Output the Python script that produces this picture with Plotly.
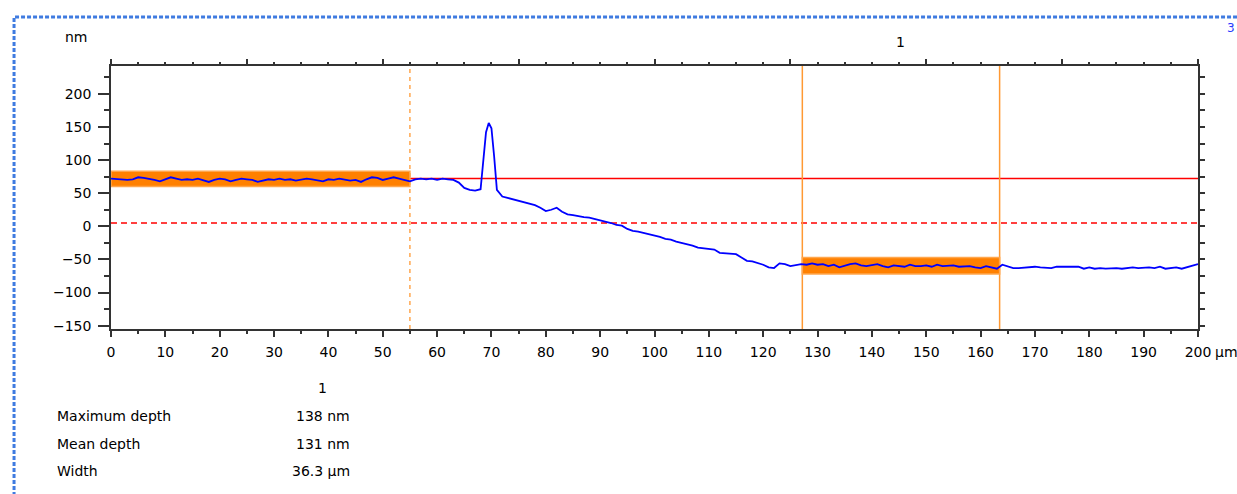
import plotly.graph_objects as go

# ---- profile data (µm, nm) ----
x_um = list(range(0, 64)) + [64, 65, 66, 67, 68, 68.5, 69, 69.5, 70, 70.5, 71] + list(range(72, 201))
height_nm = [
    72, 71, 70, 70, 71, 74, 73, 72, 70, 68, 71, 74, 72, 70, 71, 70, 72, 69, 67, 70,
    72, 71, 68, 70, 72, 71, 70, 67, 69, 71, 70, 72, 70, 71, 69, 71, 72, 71, 70, 68,
    71, 70, 72, 71, 69, 70, 67, 71, 74, 73, 70, 72, 74, 72, 70, 68,
    71, 72, 71, 72, 70, 72, 71, 70,
    66, 58, 55, 54, 56, 100, 142, 156, 148, 105, 55,
    45, 43, 41, 39, 37, 35, 32, 28, 23, 25, 28, 22, 18, 17, 15, 14, 13, 11, 9, 8,
    5, 2, 1, -4, -7, -8, -10, -12, -13, -16, -19, -20, -23, -25, -26, -29, -32, -33, -34, -35,
    -40, -41, -41, -42, -47, -52, -53, -55, -58, -62, -63, -56, -57, -60, -59, -57,
    -58, -56, -58, -57, -60, -58, -62, -59, -57, -56, -59, -60, -58, -57, -60, -62,
    -59, -60, -61, -58, -60, -60, -59, -61, -58, -60, -60, -59, -61, -60, -60, -62,
    -63, -60, -62, -64,
    -58, -60, -63, -63, -62, -61, -61, -62, -62, -63, -61, -61, -62, -62, -61, -64,
    -62, -64, -63, -64, -63, -63, -64, -63, -62, -63, -62, -62, -63, -61, -64, -63,
    -62, -64, -62, -60, -57,
]

# reference / measurement markers
ref_level_nm = 72          # red solid
base_level_nm = 5          # red dashed
ref_cursor_um = 55         # orange dashed
meas_cursors_um = [127.2, 163.5]
ref_band = dict(x=[0, 55], y=[60, 83])
meas_band = dict(x=[127.2, 163.5], y=[-72, -47])

table_labels = ["Maximum depth", "Mean depth", "Width"]
table_values = ["138 nm", "131 nm", "36.3 µm"]

FONT = "DejaVu Sans"
ORANGE = "#ff8000"
ORANGE_EDGE = "#ffa64d"

fig = go.Figure()

shapes = []
for band in (ref_band, meas_band):
    shapes.append(dict(type="rect", xref="x", yref="y", x0=band["x"][0], x1=band["x"][1],
                       y0=band["y"][0], y1=band["y"][1], fillcolor=ORANGE,
                       line=dict(color=ORANGE_EDGE, width=1.5), layer="below"))
shapes.append(dict(type="line", xref="paper", yref="y", x0=0, x1=1, y0=ref_level_nm, y1=ref_level_nm,
                   line=dict(color="#ff0000", width=1.5), layer="below"))
shapes.append(dict(type="line", xref="paper", yref="y", x0=0, x1=1, y0=base_level_nm, y1=base_level_nm,
                   line=dict(color="#ff0000", width=1.3, dash="6px,4px"), layer="below"))
shapes.append(dict(type="line", xref="x", yref="paper", x0=ref_cursor_um, x1=ref_cursor_um, y0=0, y1=1,
                   line=dict(color="#ff9933", width=1.3, dash="4px,4px"), layer="below"))
for c in meas_cursors_um:
    shapes.append(dict(type="line", xref="x", yref="paper", x0=c, x1=c, y0=0, y1=1,
                       line=dict(color="#ff9933", width=1.5), layer="below"))
# dashed blue frame around the view
shapes.append(dict(type="rect", xref="paper", yref="paper", x0=-0.0892, x1=1.045, y0=-0.75, y1=1.1863,
                   line=dict(color="#3f7be0", width=3, dash="4px,2px"), fillcolor="rgba(0,0,0,0)"))

fig.add_trace(go.Scatter(x=x_um, y=height_nm, mode="lines", line=dict(color="#0000ff", width=1.8),
                         showlegend=False, hoverinfo="skip"))
fig.add_trace(go.Scatter(x=[None], y=[None], xaxis="x2", yaxis="y2", showlegend=False, hoverinfo="skip"))

tickfont = dict(family=FONT, size=14, color="#000000")
axcol = "#333333"


def ann(text, x, y, xanchor="center", font=tickfont):
    return dict(text=text, x=x, y=y, xref="paper", yref="paper", showarrow=False,
                xanchor=xanchor, yanchor="middle", font=font)


annotations = [
    ann("nm", -0.0313, 1.1103),
    ann("1", 0.7259, 1.0913),
    ann("µm", 1.0135, -0.0875, "left"),
    ann("3", 1.0359, 1.1445, "right", dict(family=FONT, size=12, color="#2a3cff")),
    ann("1", 0.195, -0.2243),
]
rows_y = [-0.3308, -0.4373, -0.5399]
for lab, val, yy in zip(table_labels, table_values, rows_y):
    annotations.append(ann(lab, -0.0515, yy, "left"))
    annotations.append(ann(val, 0.2217, yy, "right"))

fig.update_layout(
    width=1237, height=494,
    margin=dict(l=111, r=39, t=66, b=165),
    paper_bgcolor="white", plot_bgcolor="white",
    shapes=shapes, annotations=annotations,
    xaxis=dict(range=[0, 200], dtick=10, tick0=0, ticks="outside", ticklen=6, tickwidth=1.5, tickcolor=axcol,
               minor=dict(dtick=5, ticks="outside", ticklen=3, tickwidth=1.5, tickcolor=axcol),
               showline=True, linecolor=axcol, linewidth=1.5, mirror=True, showgrid=False, zeroline=False,
               tickfont=tickfont, ticklabelstandoff=3, fixedrange=True),
    xaxis2=dict(range=[0, 200], overlaying="x", side="top", dtick=25, tick0=0, ticks="outside", ticklen=6,
                tickwidth=1.5, tickcolor=axcol, showticklabels=False, showgrid=False, zeroline=False,
                showline=False, minor=dict(dtick=5, ticks="outside", ticklen=3, tickwidth=1.5, tickcolor=axcol)),
    yaxis=dict(range=[-155, 242], dtick=50, tick0=0, ticks="outside", ticklen=11, tickwidth=1.5, tickcolor=axcol,
               minor=dict(dtick=25, ticks="outside", ticklen=5, tickwidth=1.5, tickcolor=axcol),
               showline=True, linecolor=axcol, linewidth=1.5, mirror=True, showgrid=False, zeroline=False,
               tickfont=tickfont, ticklabelstandoff=4, fixedrange=True),
    yaxis2=dict(range=[-155, 242], overlaying="y", side="right", dtick=25, tick0=0, ticks="outside", ticklen=6,
                tickwidth=1.5, tickcolor=axcol, showticklabels=False, showgrid=False, zeroline=False, showline=False),
)

fig.write_html("out.html", config={"displayModeBar": False},
               post_script="document.body.style.margin='0';document.body.style.overflow='hidden';")
